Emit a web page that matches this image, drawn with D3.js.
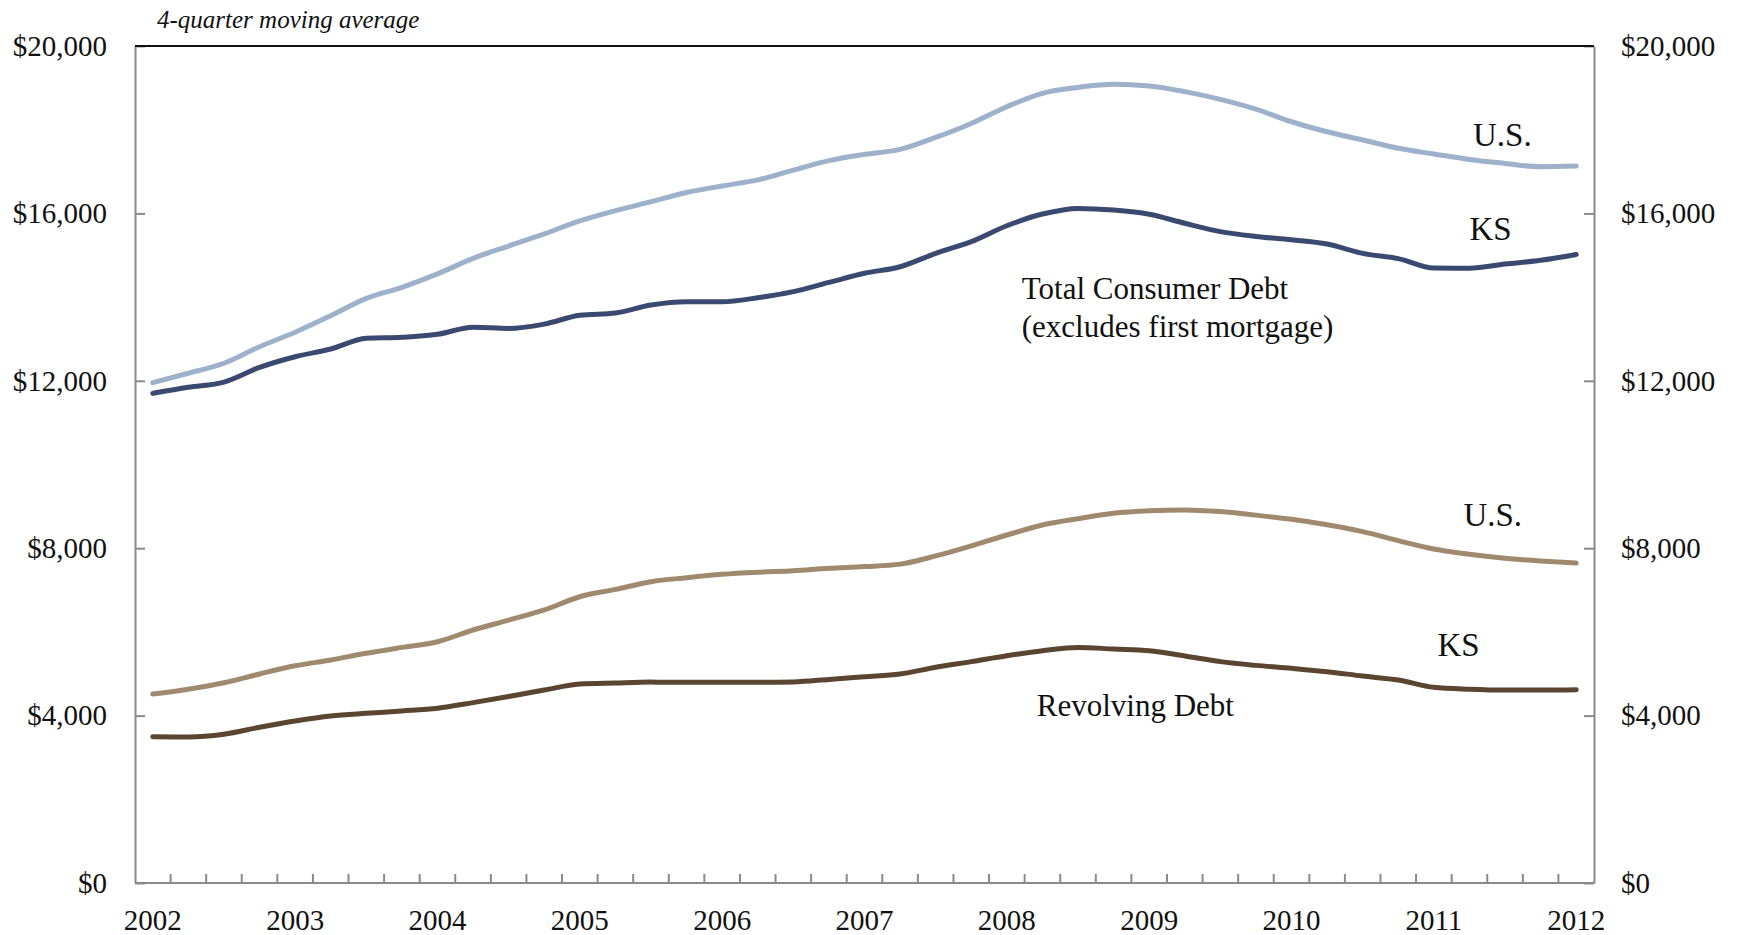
<!DOCTYPE html>
<html>
<head>
<meta charset="utf-8">
<script src="https://cdn.jsdelivr.net/npm/d3@7"></script>
<style>
  html, body { margin: 0; padding: 0; background: #fff; }
  text { font-family: "Liberation Serif", "Times New Roman", serif; fill: #111; }
</style>
</head>
<body>
<svg></svg>
<script>
const width = 1737;
const height = 935;

// -----------------------------
// DATA
// -----------------------------
const years = d3.range(2002, 2013);
const quarters = [];
years.forEach(yr => {
  [1, 2, 3, 4].forEach(q => {
    if (yr < 2012 || q === 1) quarters.push(`${yr}Q${q}`);
  });
});

const usTotal = [
  11955, 12180, 12420, 12815, 13160, 13555, 13970, 14235, 14555, 14925,
  15220, 15510, 15820, 16065, 16280, 16500, 16655, 16800, 17035, 17260,
  17410, 17530, 17815, 18150, 18550, 18870, 19010, 19085, 19045, 18910,
  18725, 18490, 18190, 17950, 17755, 17555, 17420, 17290, 17195, 17115,
  17130
];

const ksTotal = [
  11700, 11845, 11970, 12320, 12575, 12760, 13015, 13040, 13110, 13280,
  13250, 13355, 13565, 13620, 13810, 13890, 13890, 13985, 14130, 14350,
  14570, 14725, 15045, 15325, 15705, 15985, 16120, 16080, 15980, 15765,
  15565, 15450, 15370, 15270, 15045, 14920, 14695, 14690, 14790, 14880,
  15020
];

const usRevolving = [
  4515, 4630, 4785, 4995, 5190, 5330, 5490, 5630, 5765, 6045,
  6280, 6525, 6840, 7015, 7200, 7295, 7375, 7425, 7460, 7520,
  7560, 7620, 7815, 8055, 8315, 8555, 8705, 8835, 8895, 8915,
  8875, 8790, 8690, 8560, 8395, 8180, 7980, 7855, 7760, 7695,
  7645
];

const ksRevolving = [
  3495, 3490, 3555, 3720, 3870, 3990, 4055, 4110, 4175, 4310,
  4455, 4610, 4755, 4780, 4800, 4795, 4795, 4795, 4805, 4865,
  4930, 4995, 5155, 5290, 5430, 5550, 5630, 5590, 5550, 5425,
  5290, 5200, 5130, 5050, 4945, 4850, 4675, 4630, 4610, 4610,
  4620
];

const yTicks = [0, 4000, 8000, 12000, 16000, 20000];

const series = [
  { name: "U.S. total", values: usTotal, color: "#9db1ca" },
  { name: "KS total", values: ksTotal, color: "#3a4970" },
  { name: "U.S. revolving", values: usRevolving, color: "#a08a6e" },
  { name: "KS revolving", values: ksRevolving, color: "#5a4530" }
];

// labels anchored in data space: quarter index + value at baseline
const labels = [
  { text: "U.S.", i: 37.1, v: 17610, size: 33 },
  { text: "KS", i: 37.0, v: 15364, size: 33 },
  { text: "Total Consumer Debt", i: 24.42, v: 13947, size: 31 },
  { text: "(excludes first mortgage)", i: 24.42, v: 13058, size: 31 },
  { text: "U.S.", i: 36.83, v: 8530, size: 33 },
  { text: "KS", i: 36.1, v: 5424, size: 33 },
  { text: "Revolving Debt", i: 24.84, v: 3990, size: 31 }
];

// -----------------------------
// SCALES
// -----------------------------
const margin = { left: 135, right: 1594, top: 46, bottom: 883 };

const x = d3.scaleBand()
  .domain(quarters)
  .range([margin.left, margin.right])
  .padding(0);

const bw = x.bandwidth();
const xMid = q => x(q) + bw / 2;
const xIdx = i => margin.left + bw * (i + 0.5);

const y = d3.scaleLinear()
  .domain([0, 20000])
  .range([margin.bottom, margin.top]);

const svg = d3.select("svg")
  .attr("width", width)
  .attr("height", height);

const fmt = d => "$" + d3.format(",")(d);

// -----------------------------
// AXES
// -----------------------------
const leftAxis = svg.append("g")
  .attr("transform", `translate(${margin.left},0)`)
  .call(d3.axisLeft(y).tickValues(yTicks).tickFormat(fmt)
    .tickSize(-10).tickSizeOuter(0).tickPadding(28));

const rightAxis = svg.append("g")
  .attr("transform", `translate(${margin.right},0)`)
  .call(d3.axisRight(y).tickValues(yTicks).tickFormat(fmt)
    .tickSize(-10).tickSizeOuter(0).tickPadding(27));

[leftAxis, rightAxis].forEach(g => {
  g.select(".domain").attr("stroke", "#8a8a8a").attr("stroke-width", 2);
  g.selectAll(".tick line").attr("stroke", "#8a8a8a").attr("stroke-width", 2);
  g.selectAll(".tick text")
    .attr("font-size", 29)
    .attr("font-family", "Liberation Serif, serif")
    .attr("fill", "#111");
});

// bottom axis: labels at year quarters, ticks at band boundaries
const yearQuarters = quarters.filter(q => q.endsWith("Q1"));

const bottomAxis = svg.append("g")
  .attr("transform", `translate(0,${margin.bottom})`)
  .call(d3.axisBottom(x).tickValues(yearQuarters)
    .tickFormat(q => q.slice(0, 4))
    .tickSize(0).tickPadding(26));

bottomAxis.select(".domain").remove();
bottomAxis.selectAll(".tick text")
  .attr("font-size", 29)
  .attr("font-family", "Liberation Serif, serif")
  .attr("fill", "#111");

svg.append("g")
  .selectAll("line")
  .data(quarters.slice(1))
  .join("line")
  .attr("x1", d => x(d))
  .attr("x2", d => x(d))
  .attr("y1", margin.bottom)
  .attr("y2", margin.bottom - 9)
  .attr("stroke", "#8a8a8a")
  .attr("stroke-width", 2);

svg.append("line")
  .attr("x1", margin.left)
  .attr("x2", margin.right)
  .attr("y1", y(0))
  .attr("y2", y(0))
  .attr("stroke", "#8a8a8a")
  .attr("stroke-width", 2);

// top border
svg.append("line")
  .attr("x1", margin.left)
  .attr("x2", margin.right)
  .attr("y1", y(20000))
  .attr("y2", y(20000))
  .attr("stroke", "#111")
  .attr("stroke-width", 2);

// -----------------------------
// LINES
// -----------------------------
const line = d3.line()
  .x((d, i) => xMid(quarters[i]))
  .y(d => y(d))
  .curve(d3.curveMonotoneX);

svg.append("g")
  .selectAll("path")
  .data(series)
  .join("path")
  .attr("d", d => line(d.values))
  .attr("fill", "none")
  .attr("stroke", d => d.color)
  .attr("stroke-width", 5)
  .attr("stroke-linejoin", "round")
  .attr("stroke-linecap", "round");

// -----------------------------
// TEXT
// -----------------------------
svg.append("text")
  .attr("x", 157)
  .attr("y", 28)
  .attr("font-size", 25)
  .attr("font-style", "italic")
  .text("4-quarter moving average");

svg.append("g")
  .selectAll("text")
  .data(labels)
  .join("text")
  .attr("x", d => xIdx(d.i))
  .attr("y", d => y(d.v))
  .attr("font-size", d => d.size)
  .text(d => d.text);
</script>
</body>
</html>
